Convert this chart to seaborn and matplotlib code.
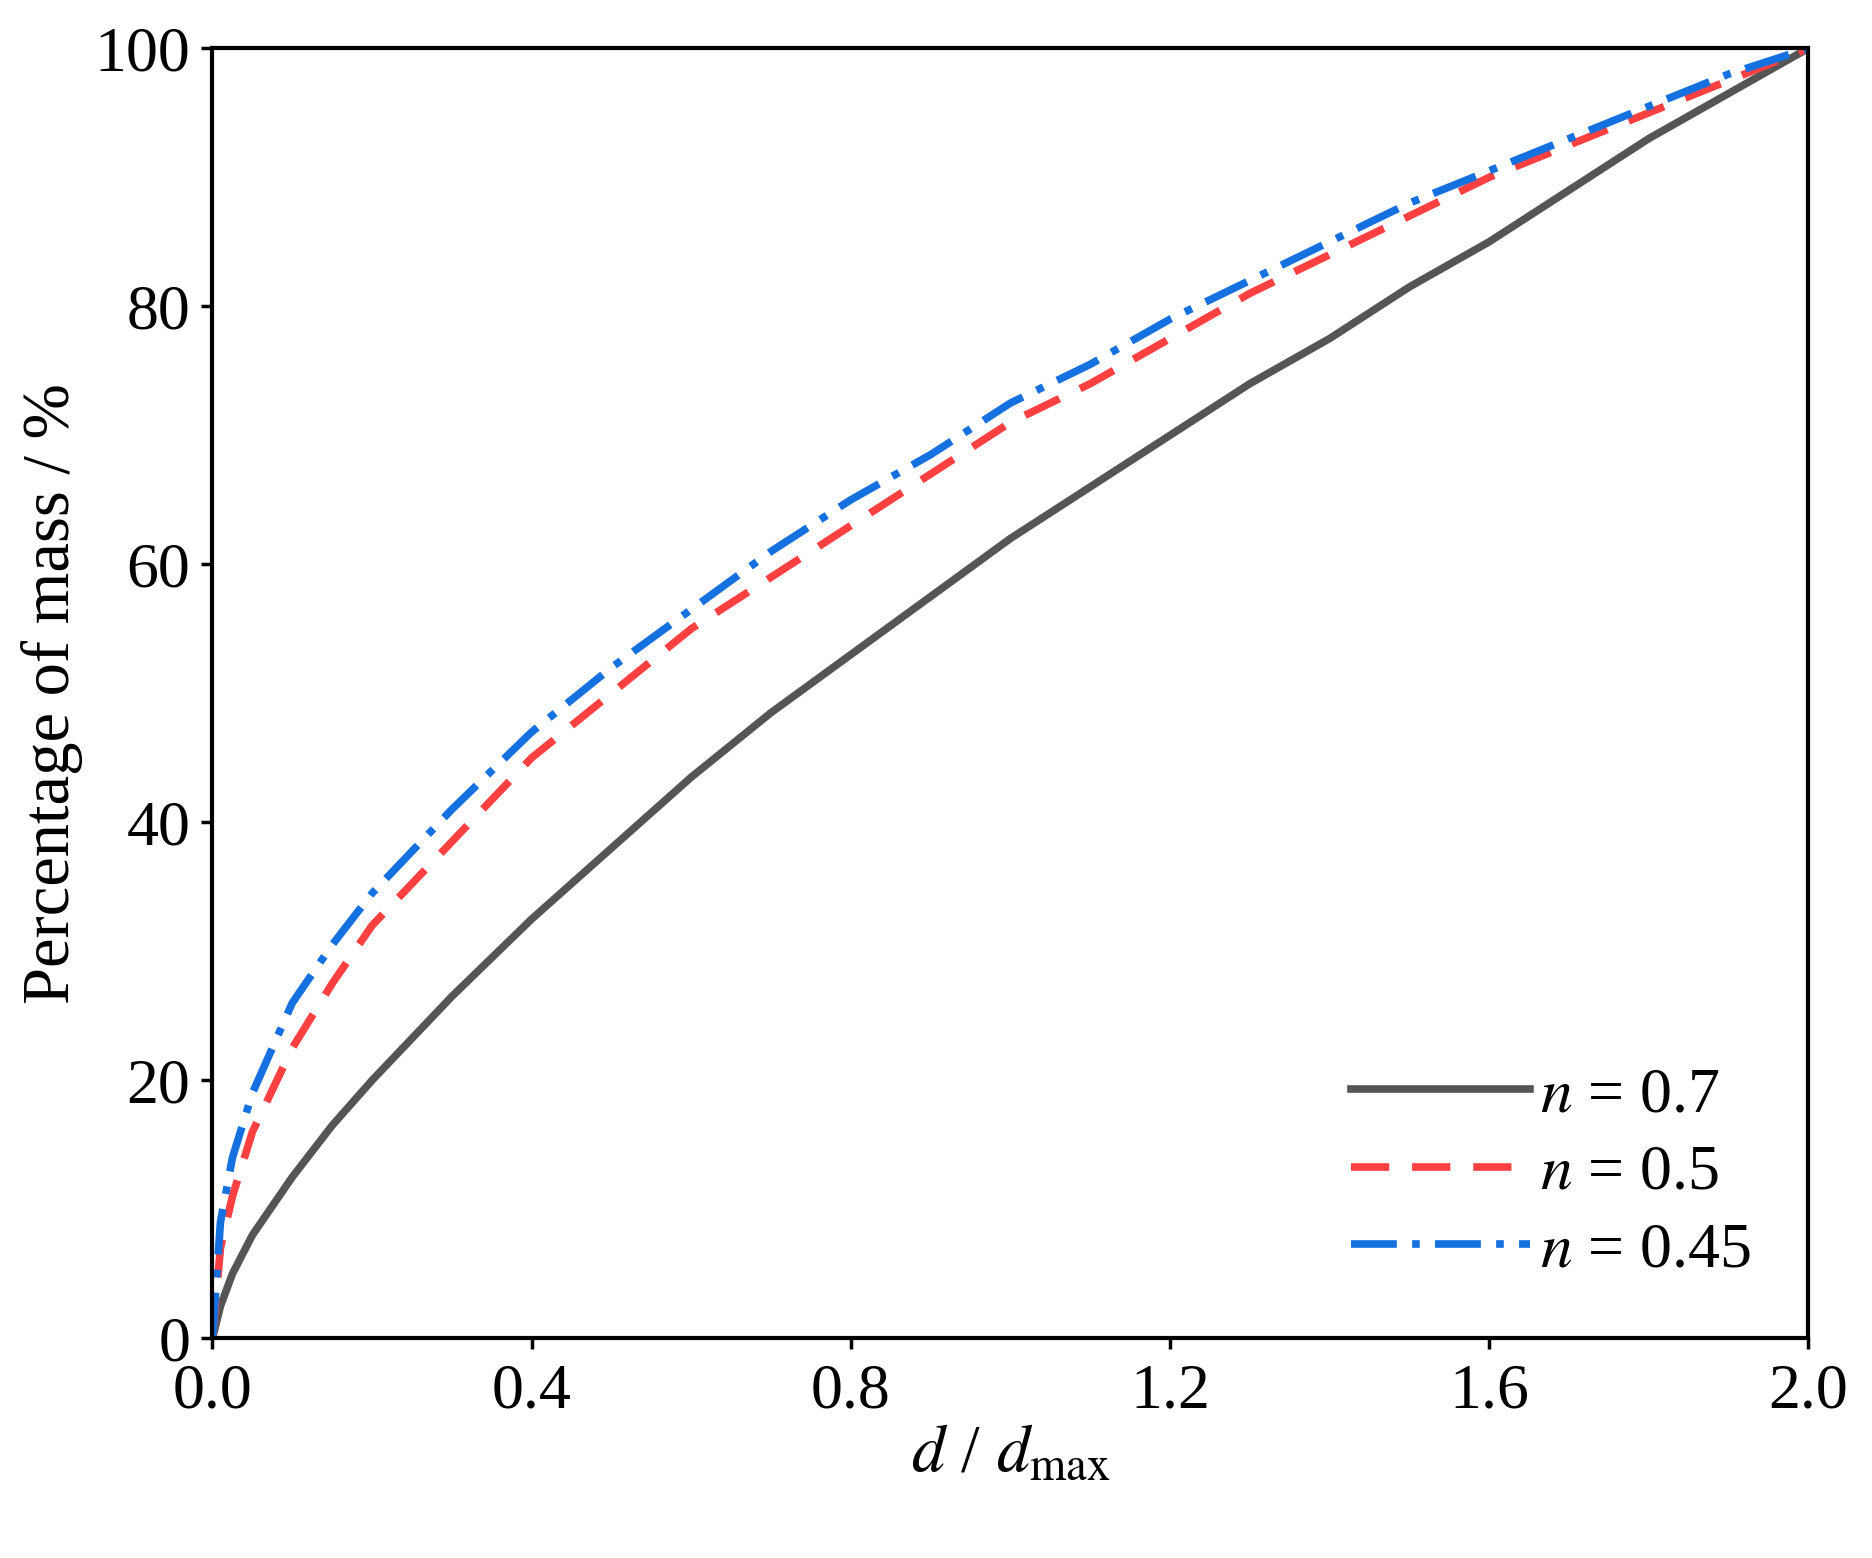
import matplotlib
matplotlib.use("Agg")
import matplotlib.pyplot as plt
import seaborn as sns
import pandas as pd

x = [0,0.01,0.025,0.05,0.1,0.15,0.2,0.3,0.4,0.5,0.6,0.7,0.8,0.9,1.0,1.1,1.2,1.3,1.4,1.5,1.6,1.7,1.8,1.9,2.0]
n07 = [0,2.5,5,8,12.5,16.5,20,26.5,32.5,38,43.5,48.5,53,57.5,62,66,70,74,77.5,81.5,85,89,93,96.5,100]
n05 = [0,7,11,16,22.5,27.5,32,38.5,45,50,55,59,63,67,71,74,77.5,81,84,87,90,92.5,95,97.5,100]
n045 = [0,9,14,19,26,30.5,34.5,41,47,52,56.5,61,65,68.5,72.5,75.5,79,82,85,88,90.5,93,95.5,98,100]
labels = ["$n$ = 0.7", "$n$ = 0.5", "$n$ = 0.45"]

plt.rcParams["font.family"] = "Liberation Serif"
plt.rcParams["mathtext.fontset"] = "stix"
fig = plt.figure(figsize=(18.72, 15.58), dpi=100)
ax = fig.add_axes([0.1135, 0.141, 0.8525, 0.828])

styles = [("#555555", "-"), ("#ff4040", (0, (5, 3))), ("#1570e0", (0, (6, 2, 1, 2)))]
for ys, lab, (c, ls) in zip([n07, n05, n045], labels, styles):
    df = pd.DataFrame({"x": x, "y": ys})
    sns.lineplot(data=df, x="x", y="y", ax=ax, color=c, linestyle=ls, linewidth=5.5, label=lab)

ax.set_xlim(0, 2.0)
ax.set_ylim(0, 100)
ax.set_xticks([0.0, 0.4, 0.8, 1.2, 1.6, 2.0])
ax.set_xticklabels(["0.0", "0.4", "0.8", "1.2", "1.6", "2.0"])
ax.set_yticks([0, 20, 40, 60, 80, 100])
ax.tick_params(labelsize=46, width=2.5, length=8, direction="out")
ax.tick_params(axis="x", pad=10)
ax.tick_params(axis="y", pad=8)
for s in ax.spines.values():
    s.set_linewidth(3)
ax.set_xlabel("$d$ / $d_{\\mathrm{max}}$", fontsize=48, labelpad=2)
ax.set_ylabel("Percentage of mass / %", fontsize=48, labelpad=8)
ax.legend(loc="lower right", frameon=False, fontsize=46, handlelength=2.8, handletextpad=0.15, labelspacing=0.3)
fig.savefig("out.png", dpi=100)
